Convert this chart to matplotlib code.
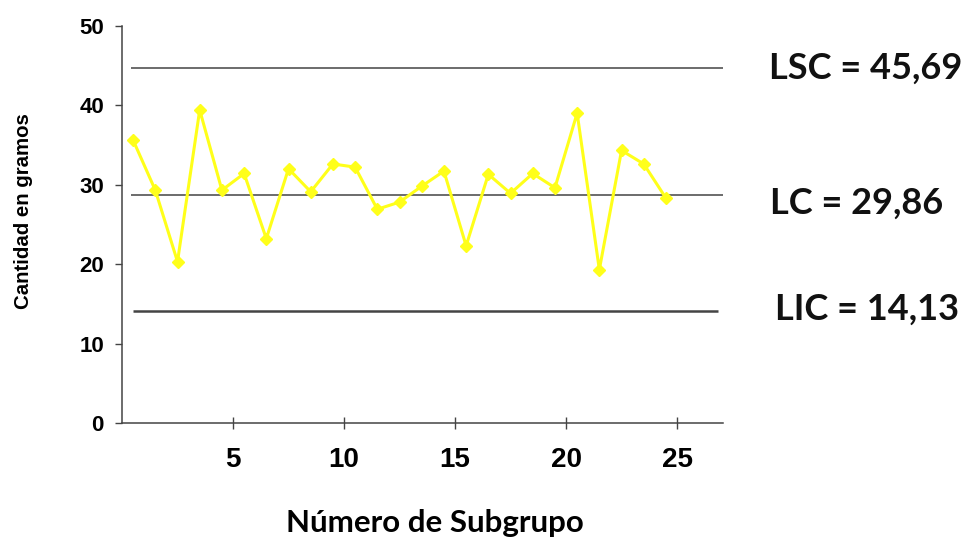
import matplotlib
matplotlib.use("Agg")
import matplotlib.pyplot as plt
import numpy as np

# Data
subgroups = list(range(1, 26))
values = [35.6, 29.3, 20.3, 39.4, 29.3, 31.4, 23.2, 32.0, 29.1, 32.6,
          32.2, 26.9, 27.8, 29.8, 31.7, 22.3, 31.3, 28.9, 31.4, 29.6,
          39.0, 19.3, 34.3, 32.6, 28.3]
limit_names = ["LSC", "LC", "LIC"]
limit_lines = [44.7, 28.7, 14.1]
limit_labels = ["LSC = 45,69", "LC = 29,86", "LIC = 14,13"]
xticks = [5, 10, 15, 20, 25]
yticks = [0, 10, 20, 30, 40, 50]

fig = plt.figure(figsize=(9.69, 5.39), dpi=100)
ax = fig.add_axes([122/969, 1-423/539, (723-122)/969, (423-25.7)/539])

xs = np.array(subgroups) - 0.5
ax.plot(xs, values, color="#FFFF1A", lw=2.2, marker="D", markersize=6.5,
        markerfacecolor="#FFFF1A", markeredgecolor="#FFFF1A", zorder=3)

# control limit lines
ax.hlines(limit_lines[0], 0.4, 27.07, color="#444444", lw=1.1, zorder=2)
ax.hlines(limit_lines[1], 0.4, 27.07, color="#444444", lw=1.1, zorder=2)
ax.hlines(limit_lines[2], 0.5, 26.85, color="#444444", lw=1.8, zorder=2)

ax.set_xlim(0, 27.07)
ax.set_ylim(0, 50)
ax.set_xticks(xticks)
ax.set_yticks(yticks)

for s in ["top", "right"]:
    ax.spines[s].set_visible(False)
for s in ["left", "bottom"]:
    ax.spines[s].set_color("#444444")
    ax.spines[s].set_linewidth(1.1)

ax.tick_params(axis="y", direction="out", length=5, width=1, color="#444444",
               pad=8, labelsize=16)
ax.tick_params(axis="x", direction="inout", length=8, width=1, color="#444444",
               pad=13, labelsize=20)
for lab in ax.get_yticklabels() + ax.get_xticklabels():
    lab.set_fontfamily("Liberation Sans")
    lab.set_fontweight("bold")

fig.text(24/969, 1-211/539, "Cantidad en gramos", rotation=90, ha="center",
         va="center", fontsize=14.7, fontweight="bold", family="Liberation Sans")
fig.text(435/969, 1-523/539, "Número de Subgrupo", ha="center", va="center",
         fontsize=22.5, fontweight="bold", family="Lato")

label_pos = [(769, 68), (770, 203), (775, 309)]
for (px, py), txt in zip(label_pos, limit_labels):
    fig.text(px/969, 1-py/539, txt, ha="left", va="center", fontsize=26,
             fontweight="bold", family="Lato", color="#111111")

fig.savefig("out.png", dpi=100, facecolor="white")
